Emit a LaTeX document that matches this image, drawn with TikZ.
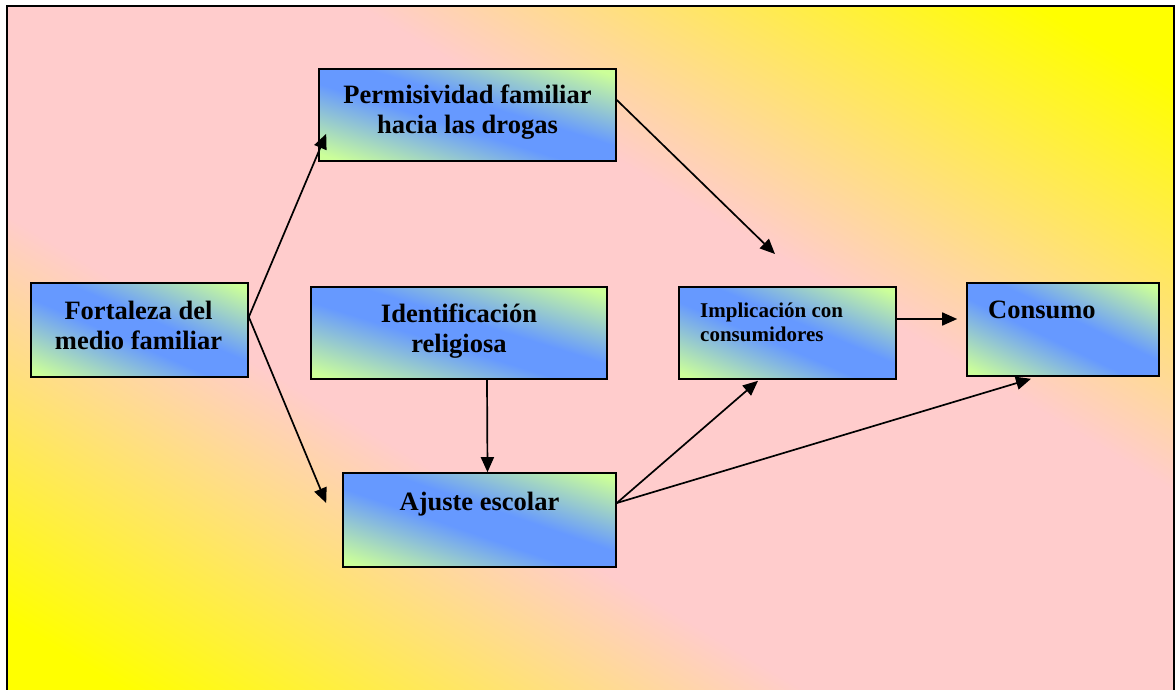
\documentclass[tikz,border=0pt]{standalone}
\usepackage{fontspec}
\setmainfont{Liberation Serif}
\usetikzlibrary{arrows.meta,calc}

\definecolor{bgyellow}{RGB}{255,255,0}
\definecolor{bgpink}{RGB}{255,204,204}
\definecolor{boxgreen}{RGB}{204,255,153}
\definecolor{boxblue}{RGB}{102,153,255}

% two-colour fills, yellow/green at two opposite corners, pink/blue along the other diagonal
\pgfdeclarehorizontalshading{bgshade}{100bp}{color(0bp)=(bgyellow); color(28bp)=(bgyellow); color(42.5bp)=(bgpink); color(57.5bp)=(bgpink); color(72bp)=(bgyellow); color(100bp)=(bgyellow)}
\pgfdeclarehorizontalshading{boxshade}{100bp}{color(0bp)=(boxgreen); color(27bp)=(boxgreen); color(46bp)=(boxblue); color(54bp)=(boxblue); color(73bp)=(boxgreen); color(100bp)=(boxgreen)}

% fill a rectangle (centre cx,cy; size w,h) so that the colour bands run
% parallel to its top-left to bottom-right diagonal
\newcommand\diagfill[5]{%
  \begin{scope}
    \clip ({#2-#4/2},{#3-#5/2}) rectangle ({#2+#4/2},{#3+#5/2});
    \begin{scope}[transform canvas={shift={(#2,#3)}, xscale=#4/2, yscale=#5/2, rotate=45}]
      \shade[shading=#1] (-1.42,-1.42) rectangle (1.42,1.42);
    \end{scope}
  \end{scope}}

% a shaded box with a black outline, named #1
\newcommand\panelbox[5]{%
  \diagfill{boxshade}{#2}{#3}{#4}{#5}%
  \node[panel, minimum width=#4pt, minimum height=#5pt] (#1) at (#2,#3) {};}

\tikzset{
  panel/.style={draw=black, line width=1.6pt, inner sep=0pt},
  biglabel/.style={font=\bfseries\fontsize{26.5}{30}\selectfont, inner sep=0pt, align=center},
  smalllabel/.style={font=\bfseries\fontsize{21}{24}\selectfont, inner sep=0pt, align=left},
  link/.style={line width=1.7pt, -{Triangle[length=15pt,width=13pt]}}
}

\begin{document}
\begin{tikzpicture}[x=1pt, y=-1pt]
  \clip (0,0) rectangle (1175,689);
  \fill[white] (0,0) rectangle (1175,689);

  % background frame
  \diagfill{bgshade}{590.5}{353}{1167}{694}
  \draw[line width=2pt] (7,6) rectangle (1174,700);

  % boxes
  \panelbox{perm}{467.5}{115}{297}{92}
  \panelbox{fort}{139.5}{330}{217}{94}
  \panelbox{ident}{459}{333}{296}{92}
  \panelbox{ajus}{479.5}{520}{273}{94}
  \panelbox{impl}{787.5}{333}{217}{92}
  \panelbox{cons}{1063}{329.5}{192}{93}

  % labels (a multi-line node sits on the baseline of its last line)
  \node[biglabel, anchor=base] (permtxt)  at (467.5,133) {Permisividad familiar\\hacia las drogas};
  \node[biglabel, anchor=base] (forttxt)  at (138.5,349) {Fortaleza del\\medio familiar};
  \node[biglabel, anchor=base] (identtxt) at (459,352) {Identificación\\religiosa};
  \node[biglabel, anchor=base] (ajustxt)  at (479.5,510) {Ajuste escolar};
  \node[smalllabel, anchor=base west] (impltxt) at (700,341) {Implicación con\\consumidores};
  \node[biglabel, anchor=base west] (constxt) at (988,318) {Consumo};

  % free end of the arrow leaving the permissiveness box
  \coordinate (permend) at (775,254);

  % connectors
  \draw[link] ($(fort.east)+(0,-13)$) -- ($(perm.south west)+(8,-28)$);
  \draw[link] ($(fort.east)+(0,-13)$) -- ($(ajus.west)+(-16,-17)$);
  \draw[link] ($(perm.east)+(0,-15)$) -- (permend);
  \draw[link] ($(ident.south)+(28,0)$) -- ($(ajus.north)+(8,0)$);
  \draw[link] ($(ajus.east)+(0,-17)$) -- ($(impl.south)+(-29.5,1)$);
  \draw[link] ($(ajus.east)+(0,-17)$) -- ($(cons.south)+(-32,2)$);
  \draw[link] ($(impl.east)+(0,-14)$) -- ($(cons.west)+(-9,-10.5)$);
\end{tikzpicture}
\end{document}
